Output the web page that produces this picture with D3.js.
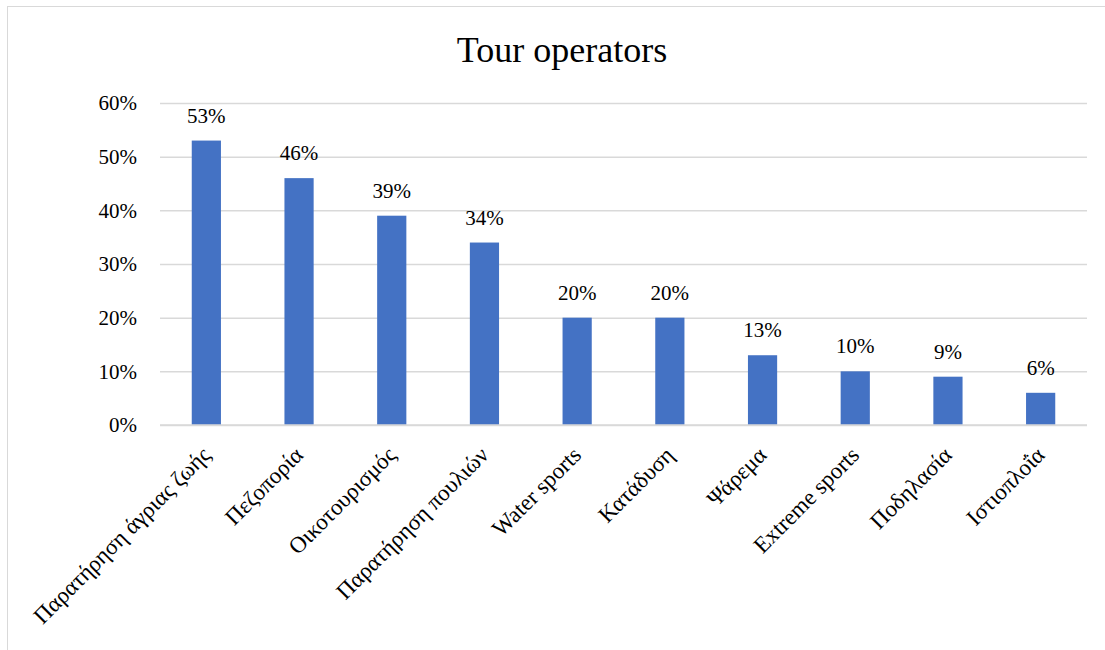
<!DOCTYPE html>
<html><head><meta charset="utf-8">
<script src="https://cdn.jsdelivr.net/npm/d3@7"></script>
<style>body{margin:0;background:#fff}svg{display:block}text{font-family:"Liberation Serif","Times New Roman",serif;fill:#000}</style>
</head><body>
<svg id="c" width="1105" height="650"></svg>
<script>
const title = "Tour operators";
const categories = ["Παρατήρηση άγριας ζωής","Πεζοπορία","Οικοτουρισμός","Παρατήρηση πουλιών","Water sports","Κατάδυση","Ψάρεμα","Extreme sports","Ποδηλασία","Ιστιοπλοΐα"];
const values = [0.53,0.46,0.39,0.34,0.20,0.20,0.13,0.10,0.09,0.06];
const yTicks = [0,0.1,0.2,0.3,0.4,0.5,0.6];

const svg = d3.select("#c");
svg.append("rect").attr("x",7.5).attr("y",6.5).attr("width",1110).attr("height",660)
  .attr("fill","#fff").attr("stroke","#d9d9d9").attr("stroke-width",1);

const L=160, R=1087, T=103, B=425;
const x = d3.scaleBand().domain(categories).range([L,R]).paddingInner(0.685).paddingOuter(0.3425);
const y = d3.scaleLinear().domain([0,0.6]).range([B,T]);

svg.append("text").attr("x",562).attr("y",62).attr("text-anchor","middle")
  .attr("font-size",36).text(title);

const yAxis = svg.append("g").attr("transform",`translate(${L},0)`)
  .call(d3.axisLeft(y).tickValues(yTicks).tickFormat(d3.format(".0%")).tickSize(-(R-L)).tickPadding(23));
yAxis.attr("font-family",null);
yAxis.select(".domain").remove();
yAxis.selectAll(".tick line").attr("stroke","#d9d9d9").attr("stroke-width",1.5);
yAxis.selectAll(".tick text").attr("font-size",21).attr("fill","#000");

svg.append("g").selectAll("text").data(values).join("text")
  .attr("x",(d,i)=>x(categories[i])+x.bandwidth()/2).attr("y",d=>y(d)-18)
  .attr("text-anchor","middle").attr("font-size",21).text(d=>d3.format(".0%")(d));

svg.append("g").selectAll("rect").data(values).join("rect")
  .attr("x",(d,i)=>x(categories[i])).attr("width",x.bandwidth())
  .attr("y",d=>y(d)).attr("height",d=>B-y(d)).attr("fill","#4472c4");

const xAxis = svg.append("g").attr("transform",`translate(0,${B})`)
  .call(d3.axisBottom(x).tickSize(0).tickPadding(0));
xAxis.attr("font-family",null);
xAxis.select(".domain").attr("stroke","#d9d9d9").attr("stroke-width",1.5).attr("d",`M${L},0H${R}`);
xAxis.selectAll(".tick text").attr("font-size",23).attr("fill","#000")
  .attr("text-anchor","end").attr("dy","0.7em")
  .attr("transform","translate(-6,20) rotate(-45)");
</script>
</body></html>
